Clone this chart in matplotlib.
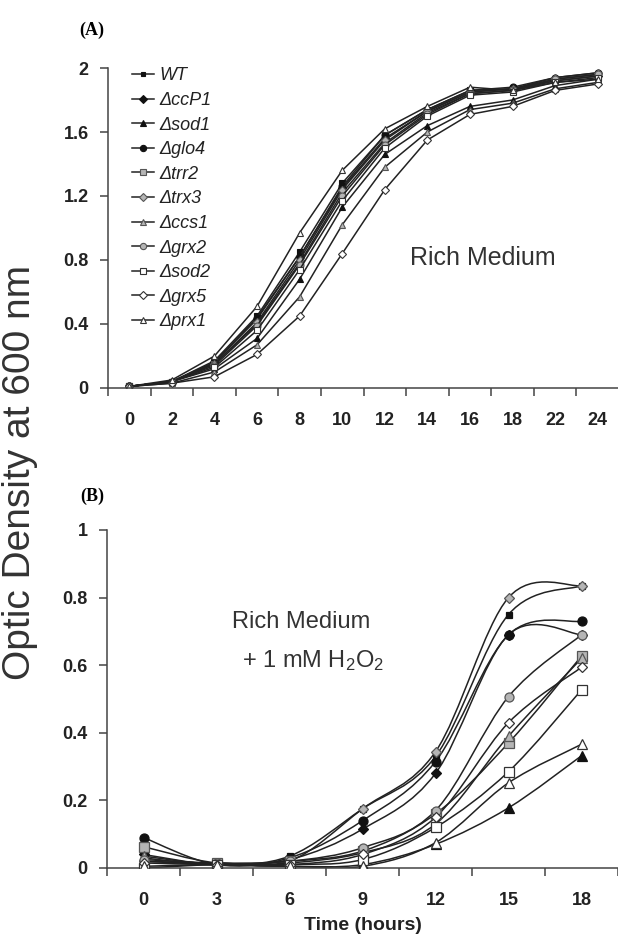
import numpy as np
import matplotlib.pyplot as plt
from matplotlib.path import Path
from matplotlib.patches import PathPatch

plt.rcParams['font.family'] = ['Liberation Sans', 'DejaVu Sans']
plt.rcParams['mathtext.fontset'] = 'custom'
plt.rcParams['mathtext.rm'] = 'Liberation Sans'
plt.rcParams['mathtext.it'] = 'Liberation Sans:italic'

strains = ['WT', 'ccP1', 'sod1', 'glo4', 'trr2', 'trx3',
           'ccs1', 'grx2', 'sod2', 'grx5', 'prx1']

# (A) rich medium, OD600 vs time (h)
hours_a = [0, 2, 4, 6, 8, 10, 12, 14, 16, 18, 22, 24]
rich = {
    'WT':   [0.01, 0.04, 0.17, 0.45, 0.85, 1.28, 1.58, 1.74, 1.86, 1.87, 1.93, 1.96],
    'ccP1': [0.01, 0.04, 0.16, 0.43, 0.82, 1.25, 1.56, 1.73, 1.85, 1.87, 1.92, 1.95],
    'sod1': [0.01, 0.04, 0.12, 0.31, 0.68, 1.13, 1.46, 1.64, 1.76, 1.80, 1.89, 1.93],
    'glo4': [0.01, 0.04, 0.16, 0.44, 0.82, 1.26, 1.58, 1.74, 1.86, 1.88, 1.94, 1.97],
    'trr2': [0.01, 0.04, 0.15, 0.40, 0.78, 1.22, 1.53, 1.72, 1.84, 1.86, 1.92, 1.95],
    'trx3': [0.01, 0.04, 0.15, 0.41, 0.80, 1.24, 1.55, 1.73, 1.85, 1.87, 1.94, 1.97],
    'ccs1': [0.01, 0.03, 0.10, 0.27, 0.57, 1.02, 1.38, 1.60, 1.74, 1.78, 1.87, 1.91],
    'grx2': [0.01, 0.04, 0.14, 0.39, 0.77, 1.20, 1.52, 1.71, 1.84, 1.86, 1.93, 1.96],
    'sod2': [0.01, 0.04, 0.13, 0.36, 0.74, 1.17, 1.50, 1.70, 1.83, 1.85, 1.91, 1.94],
    'grx5': [0.01, 0.03, 0.07, 0.21, 0.45, 0.84, 1.24, 1.55, 1.71, 1.76, 1.86, 1.90],
    'prx1': [0.01, 0.05, 0.20, 0.51, 0.97, 1.36, 1.62, 1.76, 1.88, 1.86, 1.91, 1.93],
}

# (B) rich medium + 1 mM H2O2
hours_b = [0, 3, 6, 9, 12, 15, 18]
h2o2 = {
    'WT':   [0.030, 0.010, 0.035, 0.175, 0.330, 0.750, 0.835],
    'ccP1': [0.040, 0.010, 0.025, 0.115, 0.280, 0.690, 0.690],
    'sod1': [0.020, 0.010, 0.005, 0.010, 0.070, 0.178, 0.332],
    'glo4': [0.090, 0.010, 0.030, 0.140, 0.315, 0.690, 0.730],
    'trr2': [0.063, 0.015, 0.020, 0.050, 0.160, 0.370, 0.627],
    'trx3': [0.020, 0.015, 0.020, 0.175, 0.344, 0.800, 0.835],
    'ccs1': [0.035, 0.010, 0.015, 0.045, 0.130, 0.390, 0.620],
    'grx2': [0.025, 0.015, 0.020, 0.060, 0.170, 0.507, 0.690],
    'sod2': [0.000, 0.010, 0.010, 0.025, 0.120, 0.285, 0.527],
    'grx5': [0.015, 0.010, 0.010, 0.040, 0.150, 0.430, 0.594],
    'prx1': [0.005, 0.010, 0.005, 0.005, 0.075, 0.252, 0.366],
}

BLACK, GREY, OPEN = ('#111111', '#111111'), ('#b5b5b5', '#555555'), ('white', '#333333')
styles = {
    'WT': ('s', BLACK, 0.75), 'ccP1': ('D', BLACK, 0.8), 'sod1': ('^', BLACK, 1.0),
    'glo4': ('o', BLACK, 1.0), 'trr2': ('s', GREY, 1.0), 'trx3': ('D', GREY, 0.8),
    'ccs1': ('^', GREY, 1.0), 'grx2': ('o', GREY, 1.0), 'sod2': ('s', OPEN, 1.0),
    'grx5': ('D', OPEN, 0.8), 'prx1': ('^', OPEN, 1.0),
}


def smooth_path(xs, ys):
    # Excel-like smoothed line: cubic Bezier through the points
    pts = np.column_stack([xs, ys]).astype(float)
    n = len(pts)
    verts, codes = [pts[0]], [Path.MOVETO]
    for i in range(n - 1):
        p0, p1 = pts[max(i - 1, 0)], pts[i]
        p2, p3 = pts[i + 1], pts[min(i + 2, n - 1)]
        verts += [p1 + (p2 - p0) / 6, p2 - (p3 - p1) / 6, p2]
        codes += [Path.CURVE4] * 3
    return Path(verts, codes)


def style_axis(ax, labels, yticks, ylabels, ymax):
    n = len(labels)
    ax.set_xlim(-0.5, n - 0.5)
    ax.set_ylim(0, ymax)
    ax.set_xticks(range(n))
    ax.set_xticklabels(labels)
    ax.set_xticks(np.arange(-0.5, n), minor=True)
    ax.set_yticks(yticks)
    ax.set_yticklabels(ylabels)
    for s in ['top', 'right']:
        ax.spines[s].set_visible(False)
    for s in ['left', 'bottom']:
        ax.spines[s].set_color('#444444')
        ax.spines[s].set_linewidth(1.1)
    ax.tick_params(axis='x', which='major', length=0, pad=17)
    ax.tick_params(axis='x', which='minor', length=6, width=1.1, color='#444444')
    ax.tick_params(axis='y', length=6, width=1.1, color='#444444', pad=8)
    for t in ax.get_xticklabels() + ax.get_yticklabels():
        t.set_fontweight('bold')
        t.set_fontsize(13)
        t.set_color('#222222')


fig = plt.figure(figsize=(6.18, 9.41), dpi=100)
ax1 = fig.add_axes([108 / 618, 1 - 388 / 941, 511 / 618, 320 / 941])
ax2 = fig.add_axes([107 / 618, 1 - 868 / 941, 511 / 618, 338 / 941])

xa = np.arange(len(hours_a))
xb = np.arange(len(hours_b))
handles = []
for name in strains:
    mk, (fc, ec), sc = styles[name]
    h, = ax1.plot(xa, rich[name], color='#222222', lw=1.1, marker=mk,
                  ms=5 * sc, mfc=fc, mec=ec, mew=0.8,
                  label=name if name == 'WT' else '\u0394' + name)
    handles.append(h)

    ax2.add_patch(PathPatch(smooth_path(xb, h2o2[name]), fill=False,
                            ec='#222222', lw=1.1))
    ax2.plot(xb, h2o2[name], ls='none', marker=mk, ms=6.5 * sc,
             mfc=fc, mec=ec, mew=0.9, zorder=3)

style_axis(ax1, [str(h) for h in hours_a], np.arange(0, 2.01, 0.4),
           ['0', '0.4', '0.8', '1.2', '1.6', '2'], 2.0)
style_axis(ax2, [str(h) for h in hours_b], np.arange(0, 1.01, 0.2),
           ['0', '0.2', '0.4', '0.6', '0.8', '1'], 1.0)

leg = ax1.legend(handles=handles, loc='upper left', bbox_to_anchor=(0.03, 1.03),
                 frameon=False, prop={'size': 13, 'style': 'italic'},
                 handlelength=1.2, handletextpad=0.3,
                 labelspacing=0.42, borderpad=0, markerscale=0.9)
for t in leg.get_texts():
    t.set_color('#222222')

ax1.text(0.591, 0.406, 'Rich Medium', transform=ax1.transAxes, fontsize=18,
         color='#333333', va='center', ha='left')

ax2.text(0.245, 0.728, 'Rich Medium', transform=ax2.transAxes, fontsize=17,
         color='#333333', va='center', ha='left')
ax2.text(0.265, 0.615, r'+ 1 mM H$_2$O$_2$', transform=ax2.transAxes, fontsize=17,
         color='#333333', va='center', ha='left')

ax2.set_xlabel('Time (hours)', fontsize=14, fontweight='bold', color='#222222',
               labelpad=6)

fig.text(0.033, 0.498, 'Optic Density at 600 nm', rotation=90, fontsize=28,
         color='#333333', va='center', ha='center')
fig.text(92 / 618, 1 - 30 / 941, '(A)', fontsize=13, fontweight='bold',
         family='Liberation Serif', ha='center', va='center')
fig.text(92 / 618, 1 - 496 / 941, '(B)', fontsize=13, fontweight='bold',
         family='Liberation Serif', ha='center', va='center')

fig.savefig('out.png', dpi=100)
